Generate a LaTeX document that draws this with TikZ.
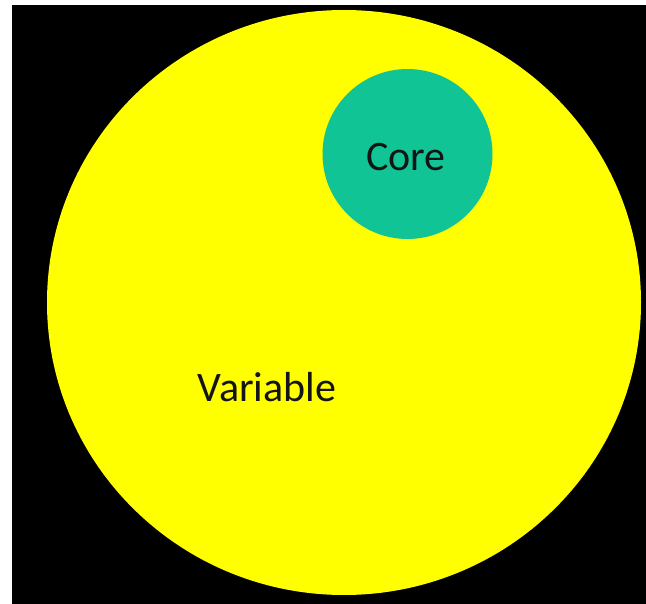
\documentclass[tikz,border=0pt]{standalone}
\usepackage{fontspec}
\setmainfont{Carlito}
\definecolor{coreteal}{RGB}{16,196,150}
\definecolor{bigyellow}{RGB}{255,255,0}
\definecolor{txt}{RGB}{20,20,20}
\begin{document}
\begin{tikzpicture}[x=1pt,y=-1pt,
  lbl/.style={font=\fontsize{42}{48}\selectfont, text=txt, anchor=base, inner sep=0pt}]
\useasboundingbox (0,0) rectangle (646,604);
\fill[white] (0,0) rectangle (646,604);
\fill[black] (12,5) rectangle (646,604);
\fill[bigyellow] (344,302.5) ellipse [x radius=297, y radius=292.5];
\node[circle, fill=coreteal, minimum size=170pt, inner sep=0pt] (core) at (407.5,154) {};
\node[lbl] (coretext) at (406,171) {Core};
\node[lbl] (vartext) at (267,402) {Variable};
\end{tikzpicture}
\end{document}
